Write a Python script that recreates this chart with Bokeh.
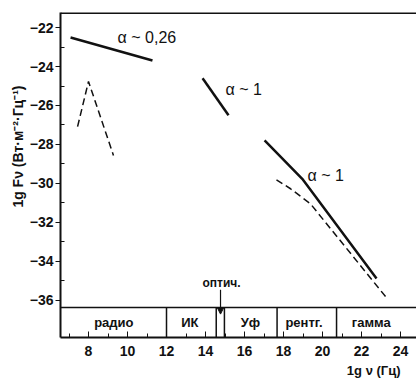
import math
from bokeh.plotting import figure
from bokeh.models import (Range1d, FixedTicker, Span, Label, Arrow, NormalHead, Title)
from bokeh.core.properties import value
from bokeh.embed import file_html
from bokeh.resources import INLINE

# ---- data (log10 of frequency in Hz, log10 of F_nu in W m^-2 Hz^-1) ----
x_ticks = [8, 10, 12, 14, 16, 18, 20, 22, 24]
x_minor = [7, 9, 11, 13, 15, 17, 19, 21, 23]
y_ticks = [-22, -24, -26, -28, -30, -32, -34, -36]
y_minor = [-23, -25, -27, -29, -31, -33, -35]

flat_x = [7.08, 11.28]
flat_y = [-22.51, -23.69]

radio_dash_x = [7.44, 8.0, 9.28]
radio_dash_y = [-27.08, -24.77, -28.56]

mid_x = [13.85, 15.18]
mid_y = [-24.6, -26.5]

hi_x = [17.03, 18.96, 22.77]
hi_y = [-27.79, -29.76, -34.87]

hi_dash_x = [17.64, 18.36, 19.38, 23.32]
hi_dash_y = [-29.81, -30.27, -31.04, -35.91]

band_names = ["радио", "ИК", "Уф", "рентг.", "гамма"]
band_centers = [9.3, 13.2, 16.3, 19.05, 22.5]
band_edges = [12.0, 14.55, 14.97, 17.67, 20.72]
optic_x = 14.77

alpha_texts = ["α ~ 0,26", "α ~ 1", "α ~ 1"]
alpha_x = [9.49, 15.03, 19.23]
alpha_y = [-22.52, -25.18, -29.59]

FONT = "Liberation Sans"
ink = "#111111"

p = figure(width=416, height=380, output_backend="svg", toolbar_location=None,
           x_range=Range1d(6.564, 24.82), y_range=Range1d(-37.90, -21.23),
           min_border_left=60, min_border_right=0, min_border_top=12, min_border_bottom=43)
p.outline_line_color = None
p.grid.visible = False
p.background_fill_color = "white"

# axes styling
xa = p.xaxis[0]
xa.ticker = FixedTicker(ticks=x_ticks, minor_ticks=x_minor)
xa.axis_line_width = 2
xa.axis_line_color = ink
xa.major_tick_in = 6
xa.major_tick_out = 0
xa.minor_tick_in = 4
xa.minor_tick_out = 0
xa.major_tick_line_color = ink
xa.minor_tick_line_color = ink
xa.major_label_standoff = 8
xa.major_label_text_font = FONT
xa.major_label_text_font_size = "14px"
xa.major_label_text_font_style = "bold"
xa.major_label_text_color = ink

ya = p.yaxis[0]
ya.ticker = FixedTicker(ticks=y_ticks, minor_ticks=y_minor)
ya.axis_line_width = 2
ya.axis_line_color = ink
ya.major_tick_in = 0
ya.major_tick_out = 5
ya.minor_tick_in = 4
ya.minor_tick_out = 0
ya.major_tick_line_color = ink
ya.minor_tick_line_color = ink
ya.major_label_standoff = 2
ya.major_label_text_font = FONT
ya.major_label_text_font_size = "14px"
ya.major_label_text_font_style = "bold"
ya.major_label_text_color = ink
ya.major_label_overrides = {t: "\u2212" + str(abs(t)) for t in y_ticks}

# top border
p.add_layout(Span(location=-21.25, dimension="width", line_color=ink, line_width=2))
# band strip top line
p.add_layout(Span(location=-36.36, dimension="width", line_color=ink, line_width=1.5))

# spectrum lines
p.line(flat_x, flat_y, line_color=ink, line_width=2.5)
p.line(mid_x, mid_y, line_color=ink, line_width=2.5)
p.line(hi_x, hi_y, line_color=ink, line_width=2.5)
p.line(radio_dash_x, radio_dash_y, line_color=ink, line_width=1.5, line_dash="7 4")
p.line(hi_dash_x, hi_dash_y, line_color=ink, line_width=1.5, line_dash="7 4")

# band dividers
p.segment(x0=band_edges, y0=[-36.36] * len(band_edges), x1=band_edges,
          y1=[-37.90] * len(band_edges), line_color=ink, line_width=1.5)

# band labels
p.text(x=band_centers, y=[-37.13] * len(band_names), text=band_names,
       text_font=value(FONT), text_font_size="13px", text_font_style="bold",
       text_align="center", text_baseline="middle", text_color=ink)

# alpha labels
p.text(x=alpha_x, y=alpha_y, text=alpha_texts, text_font=value(FONT),
       text_font_size="16px", text_align="left", text_baseline="middle",
       text_color=ink)

# optic label & arrow
p.add_layout(Label(x=optic_x + 0.05, y=-35.08, text="оптич.", text_font=FONT,
                   text_font_size="12px", text_font_style="bold", text_align="center",
                   text_baseline="middle", text_color=ink))
p.add_layout(Arrow(x_start=optic_x, y_start=-35.45, x_end=optic_x, y_end=-36.7,
                   line_color=ink, line_width=1.2,
                   end=NormalHead(size=6, fill_color=ink, line_color=ink)))

# axis titles
p.add_layout(Title(text="1g Fν (Вт·м⁻²·Гц⁻¹)", align="right", offset=73,
                   text_font=FONT, text_font_size="14px", text_font_style="bold",
                   text_color=ink, standoff=2), "left")
p.add_layout(Title(text="1g ν (Гц)", align="right", offset=16,
                   text_font=FONT, text_font_size="13px", text_font_style="bold",
                   text_color=ink, standoff=5), "below")

open("out.html", "w").write(file_html(p, INLINE))
